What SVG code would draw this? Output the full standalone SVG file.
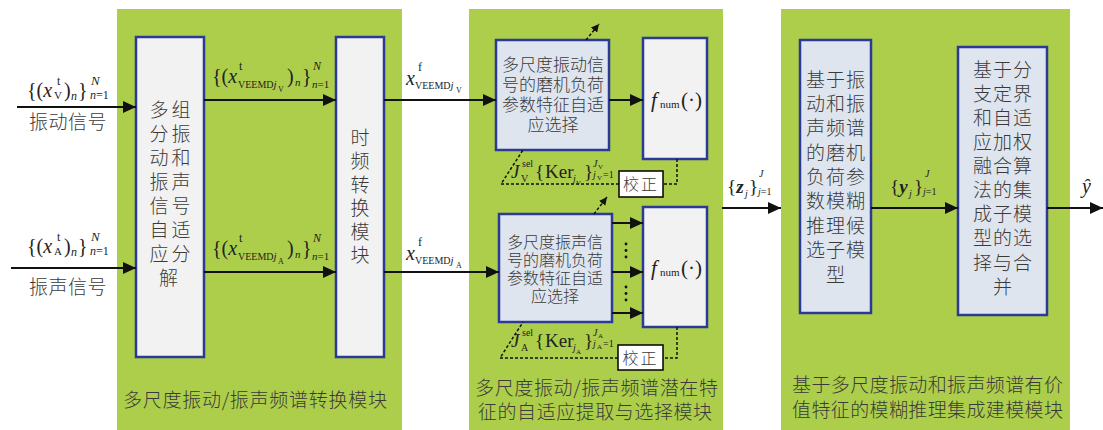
<svg xmlns="http://www.w3.org/2000/svg" width="1103" height="430" viewBox="0 0 1103 430">
<style>
.panel{fill:#adce4a}
.box{fill:#f2f2f2;stroke:#2b3a96;stroke-width:2.5}
.box2{fill:#dfe5ee;stroke:#2b3a96;stroke-width:2.5}
.fix{fill:#ffffff;stroke:#000;stroke-width:1.5}
.cn{font-family:"Noto Sans CJK SC","Noto Sans",sans-serif;fill:#3a3a3a;font-weight:300}
.m{font-family:"Liberation Serif",serif;fill:#222}
.i{font-style:italic}
.b{font-weight:bold}
.arr{stroke:#111;stroke-width:2;fill:none;marker-end:url(#ah)}
.dash{stroke:#111;stroke-width:1.5;fill:none;stroke-dasharray:3,2}
.dasharr{stroke:#111;stroke-width:1.5;fill:none;stroke-dasharray:3,2;marker-end:url(#sah)}
</style>
<defs>
<marker id="ah" markerWidth="14" markerHeight="12" refX="13" refY="6" orient="auto" markerUnits="userSpaceOnUse"><path d="M0,0 L13,6 L0,12 z" fill="#111"/></marker>
<marker id="sah" markerWidth="9" markerHeight="8" refX="8" refY="4" orient="auto" markerUnits="userSpaceOnUse"><path d="M0,0 L8,4 L0,8 z" fill="#111"/></marker>
</defs>

<g id="panels">
<rect class="panel" x="117" y="9" width="285" height="421"/>
<rect class="panel" x="469" y="9" width="254" height="421"/>
<rect class="panel" x="781" y="9" width="289" height="421"/>
</g>

<g id="panel1-label"><text class="cn" x="123" y="407" font-size="19" textLength="264" lengthAdjust="spacing">多尺度振动/振声频谱转换模块</text></g>
<g id="panel2-label">
<text class="cn" x="475" y="395" font-size="19" textLength="243" lengthAdjust="spacing">多尺度振动/振声频谱潜在特</text>
<text class="cn" x="478" y="419" font-size="19" textLength="234" lengthAdjust="spacing">征的自适应提取与选择模块</text>
</g>
<g id="panel3-label">
<text class="cn" x="792" y="392" font-size="19" textLength="271" lengthAdjust="spacing">基于多尺度振动和振声频谱有价</text>
<text class="cn" x="792" y="417" font-size="19" textLength="271" lengthAdjust="spacing">值特征的模糊推理集成建模模块</text>
</g>

<g id="decomp">
<rect class="box" x="136" y="37" width="68" height="320"/>
<text class="cn" font-size="19" text-anchor="middle" letter-spacing="3">
<tspan x="171.5" y="117">多组</tspan><tspan x="171.5" y="141">分振</tspan><tspan x="171.5" y="165">动和</tspan><tspan x="171.5" y="189">振声</tspan><tspan x="171.5" y="213">信号</tspan><tspan x="171.5" y="237">自适</tspan><tspan x="171.5" y="261">应分</tspan><tspan x="170" y="285">解</tspan>
</text>
</g>

<g id="tf">
<rect class="box" x="336" y="37" width="48" height="320"/>
<text class="cn" font-size="19" text-anchor="middle">
<tspan x="360" y="145">时</tspan><tspan x="360" y="168">频</tspan><tspan x="360" y="192">转</tspan><tspan x="360" y="215">换</tspan><tspan x="360" y="239">模</tspan><tspan x="360" y="262">块</tspan>
</text>
</g>

<g id="selV">
<rect class="box2" x="496" y="40" width="113" height="110"/>
<text class="cn" font-size="17" text-anchor="middle">
<tspan x="553" y="71">多尺度振动信</tspan><tspan x="553" y="91">号的磨机负荷</tspan><tspan x="553" y="111">参数特征自适</tspan><tspan x="553" y="131">应选择</tspan>
</text>
</g>

<g id="fnumV">
<rect class="box" x="643" y="38" width="64" height="121"/>
<text class="m" font-size="21"><tspan x="651" y="107" class="i">f</tspan><tspan x="660" y="108" font-size="11">num</tspan><tspan x="681" y="107">(·)</tspan></text>
</g>

<g id="fixV">
<rect class="fix" x="619" y="171" width="44" height="26"/>
<text class="cn" x="641" y="190" font-size="16" text-anchor="middle" letter-spacing="2">校正</text>
</g>

<g id="selA">
<rect class="box2" x="499" y="214" width="113" height="108"/>
<text class="cn" font-size="16" text-anchor="middle">
<tspan x="555" y="248">多尺度振声信</tspan><tspan x="555" y="266">号的磨机负荷</tspan><tspan x="555" y="284">参数特征自适</tspan><tspan x="555" y="302">应选择</tspan>
</text>
</g>

<g id="fnumA">
<rect class="box" x="643" y="207" width="64" height="120"/>
<text class="m" font-size="21"><tspan x="651" y="275" class="i">f</tspan><tspan x="660" y="276" font-size="11">num</tspan><tspan x="681" y="275">(·)</tspan></text>
</g>

<g id="fixA">
<rect class="fix" x="618" y="345" width="45" height="25"/>
<text class="cn" x="640.5" y="364" font-size="16" text-anchor="middle" letter-spacing="2">校正</text>
</g>

<g id="fuzzy">
<rect class="box2" x="800" y="40" width="71" height="273"/>
<text class="cn" font-size="19" text-anchor="middle" letter-spacing="1">
<tspan x="836" y="87">基于振</tspan><tspan x="836" y="111">动和振</tspan><tspan x="836" y="135">声频谱</tspan><tspan x="836" y="160">的磨机</tspan><tspan x="836" y="184">负荷参</tspan><tspan x="836" y="208">数模糊</tspan><tspan x="836" y="233">推理候</tspan><tspan x="836" y="257">选子模</tspan><tspan x="836" y="282">型</tspan>
</text>
</g>

<g id="ensemble">
<rect class="box2" x="958" y="47" width="89" height="268"/>
<text class="cn" font-size="19" text-anchor="middle" letter-spacing="1">
<tspan x="1003" y="77">基于分</tspan><tspan x="1003" y="101">支定界</tspan><tspan x="1003" y="125">和自适</tspan><tspan x="1003" y="149">应加权</tspan><tspan x="1003" y="173">融合算</tspan><tspan x="1003" y="197">法的集</tspan><tspan x="1003" y="221">成子模</tspan><tspan x="1003" y="245">型的选</tspan><tspan x="1003" y="270">择与合</tspan><tspan x="1003" y="294">并</tspan>
</text>
</g>

<g id="inputs">
<text class="cn" x="29" y="129" font-size="19" letter-spacing="0.5">振动信号</text>
<text class="cn" x="29" y="294" font-size="19" letter-spacing="0.5">振声信号</text>
</g>

<g id="connectors">
<line class="arr" x1="17" y1="107" x2="136" y2="107"/>
<line class="arr" x1="11" y1="268" x2="136" y2="268"/>
<line class="arr" x1="204" y1="100" x2="336" y2="100"/>
<line class="arr" x1="204" y1="272" x2="336" y2="272"/>
<line class="arr" x1="384" y1="100" x2="496" y2="100"/>
<line class="arr" x1="384" y1="272" x2="499" y2="272"/>
<line class="arr" x1="609" y1="100" x2="643" y2="100"/>
<line class="arr" x1="612" y1="223" x2="643" y2="223"/>
<line class="arr" x1="612" y1="272" x2="643" y2="272"/>
<line class="arr" x1="612" y1="313" x2="643" y2="313"/>
<line class="arr" x1="722" y1="208" x2="781" y2="208"/>
<line class="arr" x1="871" y1="208" x2="958" y2="208"/>
<line class="arr" x1="1047" y1="208" x2="1103" y2="208"/>
<g fill="#111">
<circle cx="626" cy="244" r="1.4"/><circle cx="626" cy="250.5" r="1.4"/><circle cx="626" cy="257" r="1.4"/>
<circle cx="626" cy="287" r="1.4"/><circle cx="626" cy="293.5" r="1.4"/><circle cx="626" cy="300" r="1.4"/>
</g>
<polyline class="dash" points="677,159 677,184 663,184"/>
<polyline class="dash" points="619,184 501,184 523,150"/>
<line class="dasharr" x1="586" y1="40" x2="599" y2="24"/>
<polyline class="dash" points="677,327 677,358 663,358"/>
<polyline class="dash" points="618,358 500,358 523,322"/>
<line class="dasharr" x1="594" y1="214" x2="607" y2="197"/>
</g>

<g id="labels">
<text class="m" font-size="20"><tspan x="27" y="97">{(</tspan><tspan class="i">x</tspan><tspan x="57" y="85" font-size="12">t</tspan><tspan x="54" y="99" font-size="11">V</tspan><tspan x="64" y="97">)</tspan><tspan x="71" y="100" font-size="12" class="i">n</tspan><tspan x="78" y="97">}</tspan><tspan x="91" y="85" font-size="13" class="i">N</tspan><tspan x="90" y="99" font-size="12" class="i">n</tspan><tspan font-size="12">=1</tspan></text>
<text class="m" font-size="20"><tspan x="27" y="253">{(</tspan><tspan class="i">x</tspan><tspan x="57" y="241" font-size="12">t</tspan><tspan x="54" y="255" font-size="11">A</tspan><tspan x="64" y="253">)</tspan><tspan x="71" y="256" font-size="12" class="i">n</tspan><tspan x="78" y="253">}</tspan><tspan x="91" y="241" font-size="13" class="i">N</tspan><tspan x="90" y="255" font-size="12" class="i">n</tspan><tspan font-size="12">=1</tspan></text>
<text class="m" font-size="20"><tspan x="212" y="83">{(</tspan><tspan class="i">x</tspan><tspan x="239" y="70" font-size="12">t</tspan><tspan x="238" y="88" font-size="10">VEEMD</tspan><tspan class="i" font-size="11">j</tspan><tspan x="278" y="92" font-size="8">V</tspan><tspan x="287" y="83">)</tspan><tspan x="295" y="86" font-size="11" class="i">n</tspan><tspan x="302" y="83">}</tspan><tspan x="313" y="70" font-size="12" class="i">N</tspan><tspan x="312" y="88" font-size="11" class="i">n</tspan><tspan font-size="11">=1</tspan></text>
<text class="m" font-size="20"><tspan x="212" y="255">{(</tspan><tspan class="i">x</tspan><tspan x="239" y="242" font-size="12">t</tspan><tspan x="238" y="260" font-size="10">VEEMD</tspan><tspan class="i" font-size="11">j</tspan><tspan x="278" y="264" font-size="8">A</tspan><tspan x="287" y="255">)</tspan><tspan x="295" y="258" font-size="11" class="i">n</tspan><tspan x="302" y="255">}</tspan><tspan x="313" y="242" font-size="12" class="i">N</tspan><tspan x="312" y="260" font-size="11" class="i">n</tspan><tspan font-size="11">=1</tspan></text>
<text class="m" font-size="20"><tspan x="406" y="85" class="i">x</tspan><tspan x="418" y="71" font-size="12">f</tspan><tspan x="415" y="89" font-size="10">VEEMD</tspan><tspan class="i" font-size="11">j</tspan><tspan x="456" y="93" font-size="8">V</tspan></text>
<text class="m" font-size="20"><tspan x="406" y="260" class="i">x</tspan><tspan x="418" y="246" font-size="12">f</tspan><tspan x="415" y="264" font-size="10">VEEMD</tspan><tspan class="i" font-size="11">j</tspan><tspan x="456" y="268" font-size="8">A</tspan></text>
<text class="m" font-size="19"><tspan x="511" y="178" class="i">J</tspan><tspan x="522" y="167" font-size="10">sel</tspan><tspan x="521" y="182" font-size="10">V</tspan><tspan x="535" y="178">{</tspan><tspan x="545" y="178">Ker</tspan><tspan x="573" y="182" font-size="10" class="i">j</tspan><tspan x="576" y="185" font-size="7">V</tspan><tspan x="584" y="178">}</tspan><tspan x="593" y="167" font-size="10" class="i">J</tspan><tspan x="598" y="169" font-size="7">V</tspan><tspan x="593" y="178" font-size="10" class="i">j</tspan><tspan x="597" y="180" font-size="7">V</tspan><tspan x="603" y="178" font-size="10">=1</tspan></text>
<text class="m" font-size="19"><tspan x="511" y="347" class="i">J</tspan><tspan x="522" y="336" font-size="10">sel</tspan><tspan x="521" y="351" font-size="10">A</tspan><tspan x="535" y="347">{</tspan><tspan x="545" y="347">Ker</tspan><tspan x="573" y="351" font-size="10" class="i">j</tspan><tspan x="576" y="354" font-size="7">A</tspan><tspan x="584" y="347">}</tspan><tspan x="593" y="336" font-size="10" class="i">J</tspan><tspan x="598" y="338" font-size="7">A</tspan><tspan x="593" y="347" font-size="10" class="i">j</tspan><tspan x="597" y="349" font-size="7">A</tspan><tspan x="603" y="347" font-size="10">=1</tspan></text>
<text class="m" font-size="19"><tspan x="727" y="193">{</tspan><tspan class="i b">z</tspan><tspan x="745" y="197" font-size="10" class="i">j</tspan><tspan x="749" y="193">}</tspan><tspan x="759" y="177" font-size="10" class="i">J</tspan><tspan x="758" y="195" font-size="10" class="i">j</tspan><tspan font-size="10">=1</tspan></text>
<text class="m" font-size="19"><tspan x="890" y="193">{</tspan><tspan class="i b">y</tspan><tspan x="909" y="197" font-size="10" class="i">j</tspan><tspan x="914" y="193">}</tspan><tspan x="925" y="177" font-size="10" class="i">J</tspan><tspan x="923" y="195" font-size="10" class="i">j</tspan><tspan font-size="10">=1</tspan></text>
<text class="m i" x="1082" y="193" font-size="20">ŷ</text>
</g>
</svg>
